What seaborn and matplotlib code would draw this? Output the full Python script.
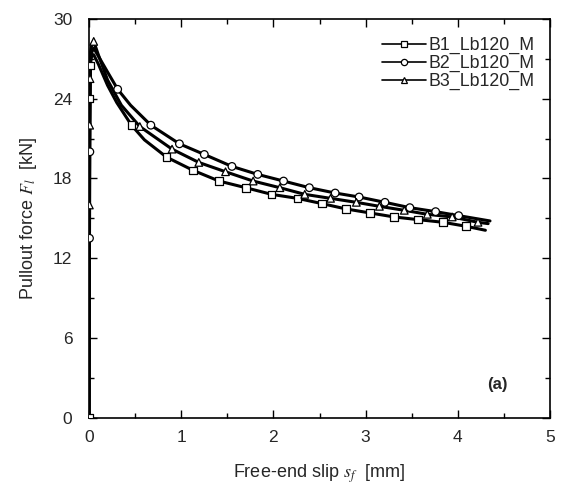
import matplotlib
matplotlib.use("Agg")
import matplotlib.pyplot as plt
import seaborn as sns
import pandas as pd
from matplotlib.ticker import MultipleLocator

# free-end slip [mm] and pullout force [kN] (curve traces)
b1_slip = [0.0, 0.004, 0.008, 0.015, 0.03, 0.05, 0.1, 0.2, 0.3, 0.46, 0.6, 0.84, 1.13,
           1.41, 1.70, 1.98, 2.26, 2.53, 2.79, 3.05, 3.31, 3.57, 3.84, 4.09, 4.30]
b1_force = [0.0, 24.0, 26.5, 27.0, 27.2, 27.3, 26.6, 25.0, 23.7, 22.0, 20.9, 19.6, 18.6,
            17.8, 17.3, 16.8, 16.5, 16.1, 15.7, 15.4, 15.1, 14.9, 14.7, 14.4, 14.1]

b2_slip = [0.0, 0.004, 0.008, 0.015, 0.03, 0.05, 0.1, 0.2, 0.31, 0.45, 0.67, 0.98, 1.25,
           1.55, 1.83, 2.11, 2.39, 2.67, 2.93, 3.21, 3.48, 3.76, 4.01, 4.35]
b2_force = [0.0, 13.5, 20.0, 26.5, 27.5, 27.8, 27.2, 26.0, 24.7, 23.5, 22.0, 20.6, 19.8,
            18.9, 18.3, 17.8, 17.3, 16.9, 16.6, 16.2, 15.8, 15.5, 15.2, 14.8]

b3_slip = [0.0, 0.003, 0.006, 0.01, 0.015, 0.03, 0.05, 0.1, 0.2, 0.35, 0.55, 0.90, 1.19,
           1.48, 1.78, 2.07, 2.34, 2.62, 2.90, 3.15, 3.42, 3.67, 3.94, 4.22, 4.33]
b3_force = [0.0, 16.0, 22.0, 25.5, 27.5, 28.1, 28.3, 27.3, 25.4, 23.5, 21.9, 20.2, 19.2,
            18.5, 17.8, 17.3, 16.8, 16.5, 16.2, 15.9, 15.6, 15.3, 15.1, 14.7, 14.6]

# open symbols
b1_mark_slip = [0.0, 0.004, 0.008, 0.46, 0.84, 1.13, 1.41, 1.70, 1.98, 2.26, 2.53, 2.79,
                3.05, 3.31, 3.57, 3.84, 4.09]
b1_mark_force = [0.0, 24.0, 26.5, 22.0, 19.6, 18.6, 17.8, 17.3, 16.8, 16.5, 16.1, 15.7,
                 15.4, 15.1, 14.9, 14.7, 14.4]
b2_mark_slip = [0.004, 0.008, 0.31, 0.67, 0.98, 1.25, 1.55, 1.83, 2.11, 2.39, 2.67, 2.93,
                3.21, 3.48, 3.76, 4.01]
b2_mark_force = [13.5, 20.0, 24.7, 22.0, 20.6, 19.8, 18.9, 18.3, 17.8, 17.3, 16.9, 16.6,
                 16.2, 15.8, 15.5, 15.2]
b3_mark_slip = [0.003, 0.006, 0.01, 0.05, 0.55, 0.90, 1.19, 1.48, 1.78, 2.07, 2.34, 2.62,
                2.90, 3.15, 3.42, 3.67, 3.94, 4.22]
b3_mark_force = [16.0, 22.0, 25.5, 28.3, 21.9, 20.2, 19.2, 18.5, 17.8, 17.3, 16.8, 16.5,
                 16.2, 15.9, 15.6, 15.3, 15.1, 14.7]

names = ["B1_Lb120_M", "B2_Lb120_M", "B3_Lb120_M"]
markers = ["s", "o", "^"]

lines = pd.concat([
    pd.DataFrame({"slip": b1_slip, "force": b1_force, "series": names[0]}),
    pd.DataFrame({"slip": b2_slip, "force": b2_force, "series": names[1]}),
    pd.DataFrame({"slip": b3_slip, "force": b3_force, "series": names[2]}),
])
marks = pd.concat([
    pd.DataFrame({"slip": b1_mark_slip, "force": b1_mark_force, "series": names[0]}),
    pd.DataFrame({"slip": b2_mark_slip, "force": b2_mark_force, "series": names[1]}),
    pd.DataFrame({"slip": b3_mark_slip, "force": b3_mark_force, "series": names[2]}),
])

sns.set_theme(style="ticks")
plt.rcParams["font.family"] = ["Liberation Sans", "DejaVu Sans"]
plt.rcParams["mathtext.fontset"] = "stix"

fig = plt.figure(figsize=(5.64, 4.95), dpi=100)
ax = fig.add_axes([0.158, 0.156, 0.817, 0.806])

sns.lineplot(data=lines, x="slip", y="force", hue="series",
             palette=["black"] * 3, sort=False, estimator=None,
             linewidth=2.2, legend=False, ax=ax)
sns.scatterplot(data=marks, x="slip", y="force", style="series",
                markers=markers, color="white", edgecolor="black",
                linewidth=0.9, s=30, legend=False, ax=ax, zorder=3)

# legend handles: line with the symbol in the middle
for name, m in zip(names, markers):
    ax.plot([], [], color="black", linewidth=1.2, marker=m, markersize=4.5,
            markerfacecolor="white", markeredgecolor="black",
            markeredgewidth=0.9, label=name)

ax.set_xlim(0, 5)
ax.set_ylim(0, 30)
ax.xaxis.set_major_locator(MultipleLocator(1))
ax.xaxis.set_minor_locator(MultipleLocator(0.5))
ax.yaxis.set_major_locator(MultipleLocator(6))
ax.yaxis.set_minor_locator(MultipleLocator(3))
ax.tick_params(which="both", direction="in", top=True, right=True,
               labelsize=12.5, width=1.0, color="black")
ax.tick_params(axis="x", pad=9)
ax.tick_params(axis="y", pad=12)
ax.tick_params(which="major", length=6)
ax.tick_params(which="minor", length=3.5)
for sp in ax.spines.values():
    sp.set_linewidth(1.2)
    sp.set_color("black")

ax.set_xlabel(r"Free-end slip $s_f$  [mm]", fontsize=13, labelpad=12)
ax.set_ylabel(r"Pullout force $F_l$  [kN]", fontsize=13, labelpad=10)

ax.text(4.43, 2.5, "(a)", fontsize=12, fontweight="bold", ha="center", va="center")

ax.legend(loc="upper right", frameon=False, fontsize=12.8,
          handlelength=2.5, handletextpad=0.15, labelspacing=0.05,
          borderaxespad=0, bbox_to_anchor=(0.983, 0.972))

fig.savefig("out.png", dpi=100)
